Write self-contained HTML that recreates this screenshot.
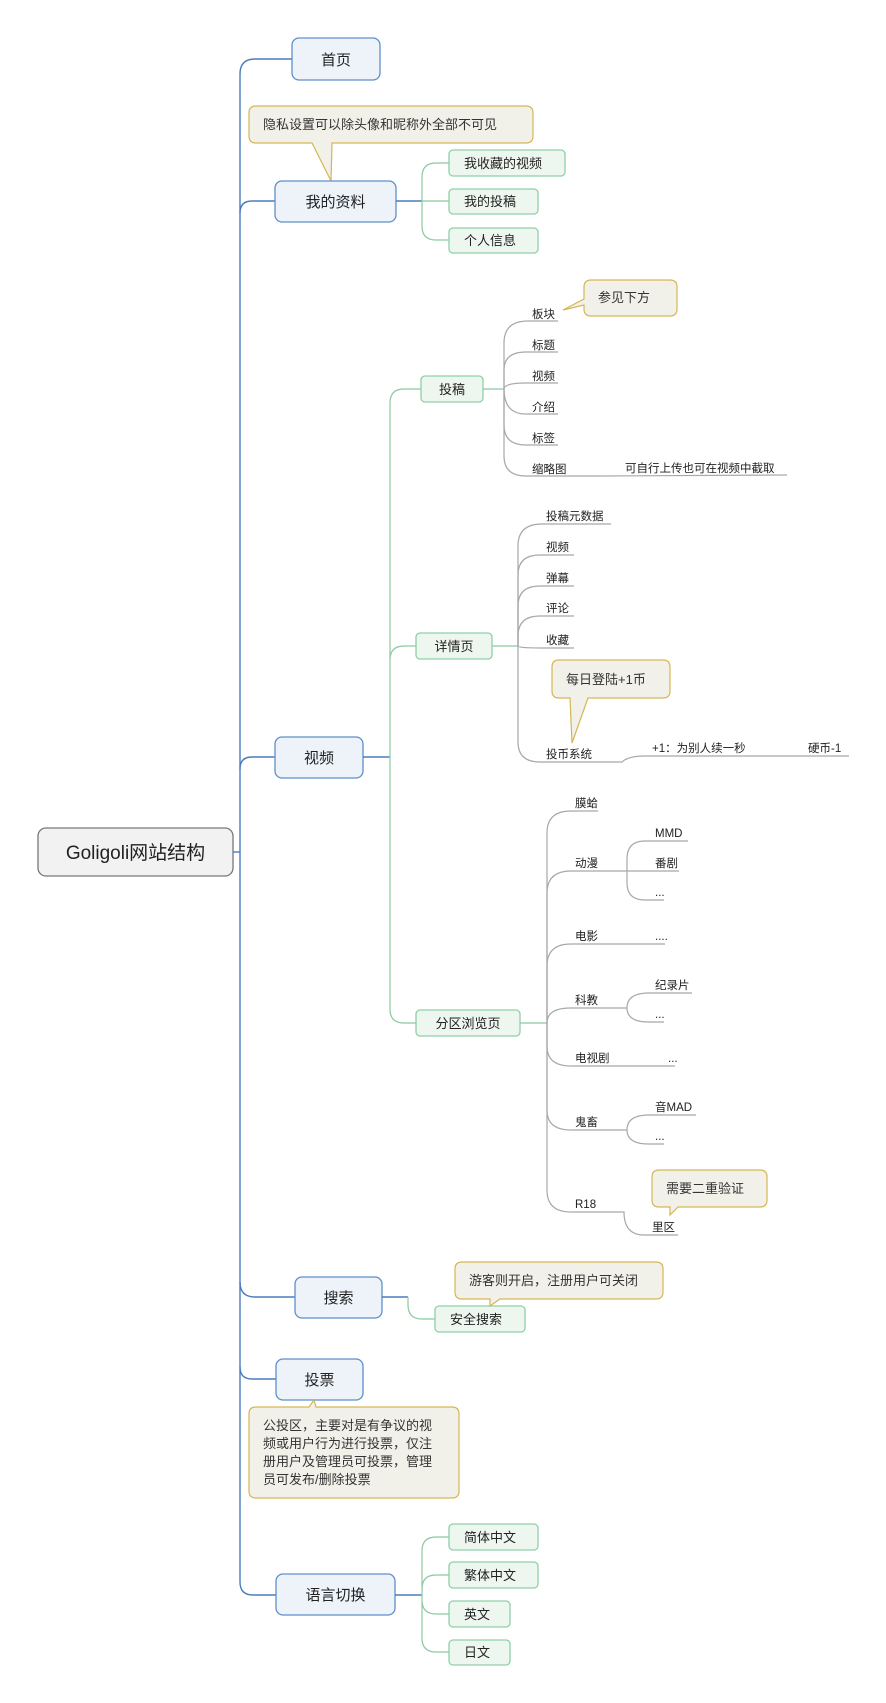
<!DOCTYPE html>
<html><head><meta charset="utf-8"><style>
html,body{margin:0;padding:0;background:#fff;}
svg{display:block;font-family:"Liberation Sans","Noto Sans CJK SC",sans-serif;}
.b{fill:#eef3fa;stroke:#5d8fc9;stroke-width:1.3}
.g{fill:#eef6f0;stroke:#8fd0a6;stroke-width:1.3}
.c{fill:#f2f1e9;stroke:#d5b655;stroke-width:1.2}
.bl{fill:none;stroke:#4a7cbd;stroke-width:1.4}
.gl{fill:none;stroke:#8cc9a0;stroke-width:1.2}
.hl{fill:none;stroke:#a8a8a8;stroke-width:1.2}
.t15{font-size:15px;fill:#222}
.t13{font-size:13px;fill:#222}
.t12{font-size:11.5px;fill:#222}
.tc{font-size:13px;fill:#333}
</style></head><body>
<svg width="886" height="1703" viewBox="0 0 886 1703" xmlns="http://www.w3.org/2000/svg">
<!-- spine -->
<path class="bl" d="M292,59 L255,59 Q240,59 240,74 L240,1582 Q240,1595 253,1595 L276,1595"/>
<path class="bl" d="M233,852 L240,852"/>
<path class="bl" d="M275,201 L252,201 Q240,201 240,213"/>
<path class="bl" d="M275,757 L252,757 Q240,757 240,769"/>
<path class="bl" d="M295,1297 L255,1297 Q240,1297 240,1282"/>
<path class="bl" d="M276,1379 L252,1379 Q240,1379 240,1367"/>
<!-- root -->
<rect x="38" y="828" width="195" height="48" rx="8" fill="#f2f2f2" stroke="#777" stroke-width="1.3"/>
<text x="135.5" y="859" text-anchor="middle" font-size="19" fill="#222">Goligoli网站结构</text>
<!-- 首页 -->
<rect class="b" x="292" y="38" width="88" height="42" rx="7"/>
<text class="t15" x="336" y="65" text-anchor="middle">首页</text>
<!-- callout privacy -->
<path class="c" d="M256,106 L526,106 Q533,106 533,113 L533,136 Q533,143 526,143 L332,143 L331,181 L312,143 L256,143 Q249,143 249,136 L249,113 Q249,106 256,106 Z"/>
<text class="tc" x="263" y="129">隐私设置可以除头像和昵称外全部不可见</text>
<!-- 我的资料 -->
<rect class="b" x="275" y="181" width="121" height="41" rx="7"/>
<text class="t15" x="335.5" y="207" text-anchor="middle">我的资料</text>
<path class="bl" d="M396,201 L422,201"/>
<path class="gl" d="M449,163 L436,163 Q422,163 422,177 L422,226 Q422,240 436,240 L449,240 M422,201 L449,201"/>
<rect class="g" x="449" y="150" width="116" height="26" rx="4"/><text class="t13" x="464" y="168">我收藏的视频</text>
<rect class="g" x="449" y="189" width="89" height="25" rx="4"/><text class="t13" x="464" y="206">我的投稿</text>
<rect class="g" x="449" y="228" width="89" height="25" rx="4"/><text class="t13" x="464" y="245">个人信息</text>
<!-- 视频 -->
<rect class="b" x="275" y="737" width="88" height="41" rx="7"/>
<text class="t15" x="319" y="763" text-anchor="middle">视频</text>
<path class="bl" d="M363,757 L390,757"/>
<path class="gl" d="M421,389 L404,389 Q390,389 390,403 L390,1009 Q390,1023 404,1023 L416,1023 M416,646 L404,646 Q390,646 390,660"/>
<!-- 投稿 -->
<rect class="g" x="421" y="376" width="62" height="26" rx="4"/><text class="t13" x="452" y="394" text-anchor="middle">投稿</text>
<path class="gl" d="M483,389 L504,389"/>
<g class="hl">
<path d="M504,389 L504,343 Q504,321 528,321 L558,321"/>
<path d="M504,389 L504,370 Q504,352 526,352 L558,352"/>
<path d="M504,389 Q504,383 526,383 L558,383"/>
<path d="M504,389 Q504,414 526,414 L558,414"/>
<path d="M504,389 L504,425 Q504,445 526,445 L558,445"/>
<path d="M504,389 L504,456 Q504,476 526,476 L600,476 L787,475"/>
</g>
<text class="t12" x="532" y="318">板块</text>
<text class="t12" x="532" y="349">标题</text>
<text class="t12" x="532" y="380">视频</text>
<text class="t12" x="532" y="411">介绍</text>
<text class="t12" x="532" y="442">标签</text>
<text class="t12" x="532" y="473">缩略图</text>
<text class="t12" x="625" y="472">可自行上传也可在视频中截取</text>
<path class="c" d="M591,280 L670,280 Q677,280 677,287 L677,309 Q677,316 670,316 L591,316 Q584,316 584,309 L584,305 L563,310 L584,299 L584,287 Q584,280 591,280 Z"/>
<text class="tc" x="598" y="302">参见下方</text>
<!-- 详情页 -->
<rect class="g" x="416" y="633" width="76" height="26" rx="4"/><text class="t13" x="454" y="651" text-anchor="middle">详情页</text>
<path class="gl" d="M492,646 L518,646"/>
<g class="hl">
<path d="M518,646 L518,546 Q518,524 542,524 L611,524"/>
<path d="M518,646 L518,575 Q518,555 540,555 L574,555"/>
<path d="M518,646 L518,606 Q518,586 540,586 L574,586"/>
<path d="M518,646 L518,636 Q518,616 540,616 L574,616"/>
<path d="M518,646 Q518,648 540,648 L574,648"/>
<path d="M518,646 L518,742 Q518,762 540,762 L622,762 Q628,756 645,756 L849,756"/>
</g>
<text class="t12" x="546" y="520">投稿元数据</text>
<text class="t12" x="546" y="551">视频</text>
<text class="t12" x="546" y="582">弹幕</text>
<text class="t12" x="546" y="612">评论</text>
<text class="t12" x="546" y="644">收藏</text>
<text class="t12" x="546" y="758">投币系统</text>
<text class="t12" x="652" y="752">+1：为别人续一秒</text>
<text class="t12" x="808" y="752">硬币-1</text>
<path class="c" d="M559,660 L663,660 Q670,660 670,667 L670,691 Q670,698 663,698 L588,698 L572,743 L570,698 L559,698 Q552,698 552,691 L552,667 Q552,660 559,660 Z"/>
<text class="tc" x="566" y="684">每日登陆+1币</text>
<!-- 分区浏览页 -->
<rect class="g" x="416" y="1010" width="104" height="26" rx="4"/><text class="t13" x="468" y="1028" text-anchor="middle">分区浏览页</text>
<path class="gl" d="M520,1023 L547,1023"/>
<g class="hl">
<path d="M547,1023 L547,833 Q547,811 571,811 L598,811"/>
<path d="M547,1023 L547,893 Q547,871 571,871 L627,871"/>
<path d="M547,1023 L547,966 Q547,944 571,944 L665,944"/>
<path d="M547,1023 Q547,1008 571,1008 L627,1008"/>
<path d="M547,1023 L547,1046 Q547,1066 571,1066 L675,1066"/>
<path d="M547,1023 L547,1110 Q547,1130 571,1130 L627,1130"/>
<path d="M547,1023 L547,1190 Q547,1212 571,1212 L624,1212 Q624,1235 644,1235 L678,1235"/>
<path d="M627,871 L627,859 Q627,841 645,841 L688,841 M627,871 L679,871 M627,871 L627,883 Q627,900 645,900 L664,900"/>
<path d="M627,1008 Q627,993 649,993 L692,993 M627,1008 Q627,1022 649,1022 L664,1022"/>
<path d="M627,1130 Q627,1115 649,1115 L696,1115 M627,1130 Q627,1144 649,1144 L664,1144"/>
</g>
<text class="t12" x="575" y="807">膜蛤</text>
<text class="t12" x="575" y="867">动漫</text>
<text class="t12" x="575" y="940">电影</text>
<text class="t12" x="575" y="1004">科教</text>
<text class="t12" x="575" y="1062">电视剧</text>
<text class="t12" x="575" y="1126">鬼畜</text>
<text class="t12" x="575" y="1208">R18</text>
<text class="t12" x="655" y="837">MMD</text>
<text class="t12" x="655" y="867">番剧</text>
<text class="t12" x="655" y="896">...</text>
<text class="t12" x="655" y="940">....</text>
<text class="t12" x="655" y="989">纪录片</text>
<text class="t12" x="655" y="1018">...</text>
<text class="t12" x="668" y="1062">...</text>
<text class="t12" x="655" y="1111">音MAD</text>
<text class="t12" x="655" y="1140">...</text>
<text class="t12" x="652" y="1231">里区</text>
<path class="c" d="M659,1170 L760,1170 Q767,1170 767,1177 L767,1200 Q767,1207 760,1207 L678,1207 L670,1215 L670,1207 L659,1207 Q652,1207 652,1200 L652,1177 Q652,1170 659,1170 Z"/>
<text class="tc" x="666" y="1193">需要二重验证</text>
<!-- 搜索 -->
<rect class="b" x="295" y="1277" width="87" height="41" rx="7"/>
<text class="t15" x="338.5" y="1303" text-anchor="middle">搜索</text>
<path class="bl" d="M382,1297 L408,1297"/>
<path class="gl" d="M408,1297 L408,1305 Q408,1319 422,1319 L435,1319"/>
<rect class="g" x="435" y="1306" width="90" height="26" rx="4"/><text class="t13" x="450" y="1324">安全搜索</text>
<path class="c" d="M462,1262 L656,1262 Q663,1262 663,1269 L663,1292 Q663,1299 656,1299 L500,1299 L490,1306 L490,1299 L462,1299 Q455,1299 455,1292 L455,1269 Q455,1262 462,1262 Z"/>
<text class="tc" x="469" y="1285">游客则开启，注册用户可关闭</text>
<!-- 投票 -->
<rect class="b" x="276" y="1359" width="87" height="41" rx="7"/>
<text class="t15" x="319.5" y="1385" text-anchor="middle">投票</text>
<path class="c" d="M256,1407 L309,1407 L314,1400 L316,1407 L452,1407 Q459,1407 459,1414 L459,1491 Q459,1498 452,1498 L256,1498 Q249,1498 249,1491 L249,1414 Q249,1407 256,1407 Z"/>
<text class="tc" x="263" y="1430">公投区，主要对是有争议的视</text>
<text class="tc" x="263" y="1448">频或用户行为进行投票，仅注</text>
<text class="tc" x="263" y="1466">册用户及管理员可投票，管理</text>
<text class="tc" x="263" y="1484">员可发布/删除投票</text>
<!-- 语言切换 -->
<rect class="b" x="276" y="1574" width="119" height="41" rx="7"/>
<text class="t15" x="335.5" y="1600" text-anchor="middle">语言切换</text>
<path class="bl" d="M395,1595 L422,1595"/>
<path class="gl" d="M449,1537 L436,1537 Q422,1537 422,1551 L422,1638 Q422,1652 436,1652 L449,1652 M422,1589 Q422,1575 436,1575 L449,1575 M422,1600 Q422,1614 436,1614 L449,1614"/>
<rect class="g" x="449" y="1524" width="89" height="26" rx="4"/><text class="t13" x="464" y="1542">简体中文</text>
<rect class="g" x="449" y="1562" width="89" height="26" rx="4"/><text class="t13" x="464" y="1580">繁体中文</text>
<rect class="g" x="449" y="1601" width="61" height="26" rx="4"/><text class="t13" x="464" y="1619">英文</text>
<rect class="g" x="449" y="1640" width="61" height="25" rx="4"/><text class="t13" x="464" y="1657">日文</text>
</svg>
</body></html>
